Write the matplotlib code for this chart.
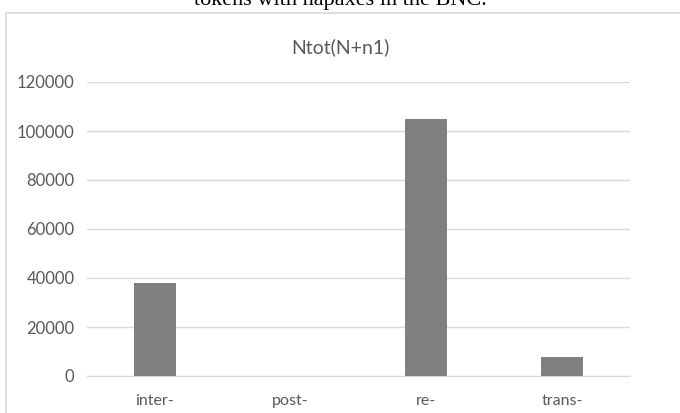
import matplotlib.pyplot as plt
from matplotlib.patches import Rectangle

# data
categories = ['inter-', 'post-', 're-', 'trans-']
ntot = [38000, 0, 105000, 7600]
yticks = [0, 20000, 40000, 60000, 80000, 100000, 120000]

W, H = 680, 413
fig = plt.figure(figsize=(W / 100, H / 100), dpi=100)
plt.rcParams['font.family'] = ['Lato', 'DejaVu Sans']

# chart frame (light grey border, cut at top/right)
fig.patches.append(Rectangle((5.5 / W, -0.01), 1.0, 1 - 12.5 / H + 0.01,
                             transform=fig.transFigure, fill=False,
                             edgecolor='#d9d9d9', linewidth=1.2))

# caption line from the page, mostly cut off
fig.text(340 / W, 1 - 5 / H, 'tokens with hapaxes in the BNC.',
         family='Liberation Serif', fontsize=16, ha='center', va='baseline',
         color='black')

ax = fig.add_axes([87 / W, 1 - 376 / H, (630 - 87) / W, (376 - 82) / H])
x = range(len(categories))
ax.bar(x, ntot, width=0.31, color='#808080', zorder=3)

ax.set_xlim(-0.5, len(categories) - 0.5)
ax.set_ylim(0, 120000)
ax.set_yticks(yticks)
ax.set_yticklabels([str(v) for v in yticks])
ax.set_xticks(list(x))
ax.set_xticklabels(categories)

ax.grid(axis='y', color='#d9d9d9', linewidth=1.0, zorder=0)
for s in ['top', 'right', 'left']:
    ax.spines[s].set_visible(False)
ax.spines['bottom'].set_color('#d9d9d9')
ax.tick_params(axis='both', length=0, colors='#595959')
ax.tick_params(axis='y', pad=9, labelsize=12)
ax.tick_params(axis='x', pad=13, labelsize=11.5)

fig.text(340 / W, 1 - 47 / H, 'Ntot(N+n1)', fontsize=14, color='#595959',
         ha='center', va='center')

plt.savefig('out.png', dpi=100)
